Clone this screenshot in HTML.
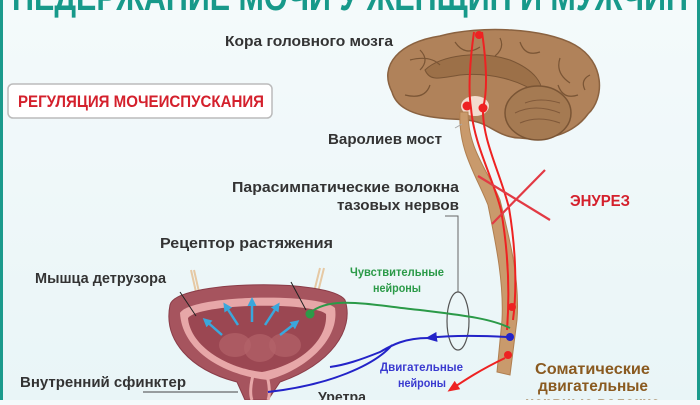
<!DOCTYPE html>
<html><head><meta charset="utf-8"><style>
html,body{margin:0;padding:0}
body{width:700px;height:400px;overflow:hidden;background:linear-gradient(#f4fafb,#e9f5f7);font-family:"Liberation Sans",sans-serif}
svg text{font-family:"Liberation Sans",sans-serif;font-weight:bold}
</style></head><body>
<svg width="700" height="400" viewBox="0 0 700 400" xmlns="http://www.w3.org/2000/svg">
<defs>
<marker id="ar" markerUnits="userSpaceOnUse" markerWidth="12" markerHeight="10" refX="9" refY="5" orient="auto"><path d="M0,0 L12,5 L0,10 z" fill="#e22"/></marker>
<marker id="ab" markerUnits="userSpaceOnUse" markerWidth="12" markerHeight="10" refX="9" refY="5" orient="auto"><path d="M0,0 L12,5 L0,10 z" fill="#2323c8"/></marker>
<marker id="ac" markerUnits="userSpaceOnUse" markerWidth="9" markerHeight="9" refX="6" refY="4.5" orient="auto"><path d="M0,0 L9,4.5 L0,9 z" fill="#3aa7dc"/></marker>
</defs>
<rect x="0" y="0" width="3" height="400" fill="#1b9a8c"/>
<rect x="697" y="0" width="3" height="400" fill="#1b9a8c"/>
<text x="12" y="10" font-size="38" fill="#17998a" textLength="676" lengthAdjust="spacingAndGlyphs">НЕДЕРЖАНИЕ МОЧИ У ЖЕНЩИН И МУЖЧИН</text>
<rect x="8" y="84" width="264" height="34" rx="5" fill="#fff" stroke="#bbb" stroke-width="1.5"/>
<text x="18" y="107" font-size="17" fill="#d4202c" textLength="246" lengthAdjust="spacingAndGlyphs">РЕГУЛЯЦИЯ МОЧЕИСПУСКАНИЯ</text>
<!-- brain -->
<path d="M392,92 C378,65 400,42 440,36 C480,25 545,28 575,45 C605,62 605,98 588,114 C575,132 550,142 520,138 C505,138 495,130 485,125 C470,118 455,120 440,118 C410,115 396,106 392,92 z" fill="#b0825a" stroke="#8a6240" stroke-width="1.5"/>
<path d="M425,70 C440,55 480,50 510,60 C535,70 545,85 540,95 C520,80 490,72 460,75 C440,78 430,82 425,70 z" fill="#9c7048" stroke="#7a5535"/>
<path d="M410,60 q20,-5 30,5 M455,42 q10,15 25,5 M520,42 q5,15 20,10 M560,58 q-5,15 10,25 M405,95 q20,5 25,-10 M578,95 q-15,5 -20,-10 M420,50 q10,10 0,20 M590,75 q-10,5 -5,15 M500,38 q5,10 -5,18" fill="none" stroke="#7a5535" stroke-width="1.2"/>
<ellipse cx="538" cy="113" rx="33" ry="27" fill="#a57a52" stroke="#7a5535" stroke-width="1.5"/>
<path d="M515,113 q20,-10 45,0 M520,123 q18,-8 40,0 M525,103 q15,-6 35,0" fill="none" stroke="#80593a"/>
<ellipse cx="475" cy="106" rx="14" ry="10" fill="#f3dccf"/>
<!-- spinal cord -->
<path d="M468,112 C468,150 488,170 500,200 C510,240 520,280 517,320 L510,375 L497,372 L502,320 C504,280 495,240 488,205 C476,175 458,150 460,112 z" fill="#c99a6c" stroke="#b07f50"/>
<path d="M474,32 C470,60 468,90 471,108 C474,145 492,175 501,210 C508,250 510,290 507,330" fill="none" stroke="#e22" stroke-width="2"/>
<path d="M482,32 C486,60 488,90 483,108 C482,140 500,172 509,208 C516,250 517,290 513,320" fill="none" stroke="#e22" stroke-width="2"/>
<circle cx="479" cy="35" r="4" fill="#e22"/>
<circle cx="467" cy="106" r="4.5" fill="#e22"/>
<circle cx="483" cy="108" r="4.5" fill="#e22"/>
<circle cx="512" cy="307" r="4" fill="#e22"/>
<circle cx="510" cy="337" r="4" fill="#2323c8"/>
<circle cx="508" cy="355" r="4" fill="#e22"/>
<line x1="478" y1="176" x2="550" y2="220" stroke="#e23a44" stroke-width="2.2"/>
<line x1="545" y1="170" x2="492" y2="224" stroke="#e23a44" stroke-width="2.2"/>
<text x="570" y="206" font-size="16" fill="#d4202c" textLength="60" lengthAdjust="spacingAndGlyphs">ЭНУРЕЗ</text>
<!-- labels -->
<text x="225" y="46" font-size="15" fill="#333" textLength="168" lengthAdjust="spacingAndGlyphs">Кора головного мозга</text>
<text x="328" y="144" font-size="15" fill="#333" textLength="114" lengthAdjust="spacingAndGlyphs">Варолиев мост</text>
<line x1="455" y1="128" x2="462" y2="124" stroke="#aaa"/>
<text x="232" y="192" font-size="15" fill="#333" textLength="227" lengthAdjust="spacingAndGlyphs">Парасимпатические волокна</text>
<text x="337" y="210" font-size="15" fill="#333" textLength="122" lengthAdjust="spacingAndGlyphs">тазовых нервов</text>
<polyline points="445,216 458,216 458,292" fill="none" stroke="#666"/>
<ellipse cx="458" cy="321" rx="11" ry="29" fill="none" stroke="#555" stroke-width="1.2"/>
<text x="160" y="248" font-size="15" fill="#333" textLength="173" lengthAdjust="spacingAndGlyphs">Рецептор растяжения</text>
<text x="35" y="283" font-size="15" fill="#333" textLength="131" lengthAdjust="spacingAndGlyphs">Мышца детрузора</text>
<text x="20" y="387" font-size="15" fill="#333" textLength="166" lengthAdjust="spacingAndGlyphs">Внутренний сфинктер</text>
<text x="350" y="276" font-size="12" fill="#2b9a48" textLength="94" lengthAdjust="spacingAndGlyphs">Чувствительные</text>
<text x="373" y="292" font-size="12" fill="#2b9a48" textLength="48" lengthAdjust="spacingAndGlyphs">нейроны</text>
<text x="380" y="371" font-size="12" fill="#3a3ad0" textLength="83" lengthAdjust="spacingAndGlyphs">Двигательные</text>
<text x="398" y="387" font-size="12" fill="#3a3ad0" textLength="48" lengthAdjust="spacingAndGlyphs">нейроны</text>
<text x="318" y="402" font-size="15" fill="#333" textLength="48" lengthAdjust="spacingAndGlyphs">Уретра</text>
<text x="535" y="374" font-size="16" fill="#8a5a20" textLength="115" lengthAdjust="spacingAndGlyphs">Соматические</text>
<text x="538" y="391" font-size="16" fill="#8a5a20" textLength="110" lengthAdjust="spacingAndGlyphs">двигательные</text>
<text x="525" y="408" font-size="16" fill="#8a5a20" textLength="135" lengthAdjust="spacingAndGlyphs">нервные волокна</text>
<!-- bladder -->
<path d="M191,270 L196,292 M194,270 L199,292" stroke="#e6c9a4" stroke-width="2"/>
<path d="M320,268 L314,292 M324,268 L318,292" stroke="#e6c9a4" stroke-width="2"/>
<path d="M170,305 C175,280 330,278 345,300 C355,330 330,365 280,382 L268,400 L245,400 L237,382 C190,370 163,340 170,305 z" fill="#a6545e" stroke="#8a3c48"/>
<path d="M180,313 C190,295 320,292 335,308 C340,340 305,370 268,380 C222,375 182,350 180,313 z" fill="#e7a7a8"/>
<path d="M188,318 C200,303 312,302 326,314 C328,340 300,365 262,372 C225,368 190,345 188,318 z" fill="#9b4752"/>
<ellipse cx="235" cy="345" rx="16" ry="12" fill="#b3626a" opacity=".7"/>
<ellipse cx="260" cy="348" rx="16" ry="14" fill="#b3626a" opacity=".7"/>
<ellipse cx="285" cy="345" rx="16" ry="12" fill="#b3626a" opacity=".7"/>
<path d="M254,372 C250,385 250,395 252,400 M266,372 C270,385 270,395 268,400" stroke="#e7a7a8" stroke-width="3" fill="none"/>
<g stroke="#3aa7dc" stroke-width="2.5" marker-end="url(#ac)">
<line x1="222" y1="335" x2="205" y2="320"/><line x1="238" y1="325" x2="225" y2="305"/>
<line x1="252" y1="322" x2="252" y2="300"/><line x1="265" y1="325" x2="278" y2="305"/>
<line x1="280" y1="335" x2="297" y2="322"/>
</g>
<line x1="180" y1="292" x2="196" y2="316" stroke="#222"/>
<line x1="291" y1="282" x2="306" y2="310" stroke="#222"/>
<line x1="143" y1="392" x2="238" y2="392" stroke="#444"/>
<!-- nerves -->
<path d="M310,313 C330,295 370,305 420,310 C460,315 490,318 510,328" fill="none" stroke="#2b9a48" stroke-width="2"/>
<circle cx="310" cy="314" r="4.5" fill="#2b9a48"/>
<path d="M507,337 C470,335 445,336 428,338" fill="none" stroke="#2323c8" stroke-width="2" marker-end="url(#ab)"/>
<path d="M428,338 C405,338 392,345 380,352 C360,360 345,365 330,367 M392,345 C375,365 330,385 268,392" fill="none" stroke="#2323c8" stroke-width="2"/>
<path d="M505,358 C480,370 465,380 450,390" fill="none" stroke="#e22" stroke-width="2" marker-end="url(#ar)"/>
</svg>
</body></html>
